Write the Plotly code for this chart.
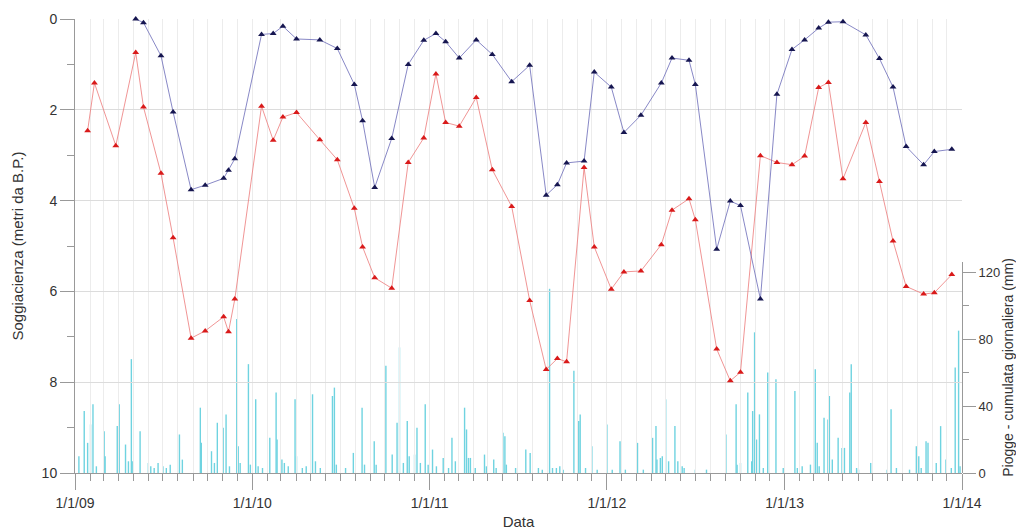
import pandas as pd
import plotly.graph_objects as go

# Groundwater depth (m below ground level) - two piezometers
dates_red = ["2009-01-27", "2009-02-10", "2009-03-26",
             "2009-05-06", "2009-05-22", "2009-06-27", "2009-07-22", "2009-08-28", "2009-09-26",
             "2009-11-03", "2009-11-13", "2009-11-26", "2010-01-20", "2010-02-13", "2010-03-05",
             "2010-04-02", "2010-05-20", "2010-06-25", "2010-07-30", "2010-08-16", "2010-09-10",
             "2010-10-15", "2010-11-18", "2010-12-20", "2011-01-14", "2011-02-03", "2011-03-03",
             "2011-04-07", "2011-05-10", "2011-06-19", "2011-07-26", "2011-08-29", "2011-09-21",
             "2011-10-10", "2011-11-15", "2011-12-06", "2012-01-10", "2012-02-05", "2012-03-11",
             "2012-04-22", "2012-05-14", "2012-06-18", "2012-07-01", "2012-08-14", "2012-09-11",
             "2012-10-02", "2012-11-12", "2012-12-16", "2013-01-16", "2013-02-11", "2013-03-12",
             "2013-04-01", "2013-05-01", "2013-06-17", "2013-07-15", "2013-08-12", "2013-09-08",
             "2013-10-14", "2013-11-05", "2013-12-11"]
red_depth = [2.46, 1.41, 2.79,
             0.74, 1.94, 3.40, 4.82, 7.03, 6.87, 6.56, 6.89, 6.17, 1.92, 2.67, 2.16,
             2.06, 2.66, 3.10, 4.17, 5.02, 5.70, 5.93, 3.16, 2.62, 1.21, 2.28, 2.36,
             1.73, 3.32, 4.13, 6.20, 7.72, 7.48, 7.55, 3.27, 5.02, 5.95, 5.57, 5.55,
             4.97, 4.21, 3.96, 4.42, 7.27, 7.97, 7.78, 3.01, 3.16, 3.21, 3.02, 1.51,
             1.40, 3.52, 2.28, 3.58, 4.89, 5.89, 6.06, 6.03, 5.63]

dates_blue = dates_red[3:]
blue_depth = [0.00, 0.08, 0.81, 2.05, 3.76, 3.66, 3.51, 3.33, 3.08, 0.34, 0.32, 0.16,
              0.44, 0.46, 0.65, 1.44, 2.24, 3.71, 2.63, 1.00, 0.47, 0.32, 0.50, 0.86,
              0.46, 0.78, 1.38, 1.02, 3.88, 3.65, 3.17, 3.13, 1.17, 1.50, 2.50, 2.12,
              1.41, 0.86, 0.91, 1.44, 5.07, 4.01, 4.11, 6.17, 1.66, 0.67, 0.46, 0.20,
              0.07, 0.06, 0.35, 0.87, 1.50, 2.81, 3.21, 2.92, 2.87]

# Daily rainfall (mm): day number counted from 1 Jan 2009, and value
rain_day = [8, 19, 26, 32, 37, 44, 60, 62, 87, 91, 104, 110, 116, 119, 134, 151, 156, 163,
            171, 181, 188, 196, 215, 221, 258, 260, 281, 287, 293, 305, 311, 318, 333, 336,
            340, 357, 361, 372, 377, 386, 401, 414, 416, 426, 431, 439, 453, 456, 468, 476,
            489, 495, 505, 530, 534, 538, 557, 573, 591, 596, 616, 620, 640, 653, 663, 668,
            676, 684, 688, 699, 704, 711, 721, 727, 736, 744, 758, 769, 776, 783, 802, 806,
            810, 814, 824, 843, 847, 862, 867, 881, 885, 888, 907, 928, 937, 954, 962, 977,
            983, 991, 998, 1005, 1027, 1037, 1040, 1051, 1064, 1075, 1095, 1106, 1122, 1133,
            1158, 1170, 1189, 1196, 1198, 1205, 1209, 1216, 1222, 1235, 1241, 1250, 1254,
            1277, 1300, 1340, 1361, 1363, 1370, 1385, 1393, 1395, 1399, 1403, 1409, 1417,
            1426, 1443, 1458, 1482, 1487, 1497, 1514, 1524, 1528, 1532, 1542, 1550, 1553,
            1559, 1571, 1579, 1584, 1595, 1598, 1609, 1613, 1638, 1672, 1680, 1691, 1718,
            1732, 1737, 1742, 1752, 1756, 1773, 1782, 1793, 1804, 1812, 1819, 1822]
rain_mm = [10, 37, 18, 29, 41, 4, 25, 10, 28, 41, 17, 7, 68, 7, 25, 6, 4, 3,
           6, 4, 3, 5, 23, 8, 39, 18, 13, 6, 30, 27, 35, 4, 92, 16,
           6, 65, 5, 44, 4, 3, 21, 48, 20, 8, 6, 4, 44, 10, 3, 4,
           47, 7, 3, 46, 51, 5, 3, 12, 39, 5, 19, 5, 64, 11, 30, 75,
           6, 31, 10, 11, 27, 6, 41, 5, 14, 4, 9, 3, 21, 7, 39, 26,
           9, 9, 3, 11, 4, 8, 3, 24, 22, 5, 3, 14, 12, 3, 2, 110,
           3, 3, 4, 2, 61, 31, 35, 3, 16, 2, 29, 2, 19, 2,
           18, 2, 21, 28, 8, 9, 10, 44, 7, 28, 7, 4, 3,
           2, 2, 23, 41, 5, 6, 48, 7, 37, 84, 20, 35, 3,
           60, 56, 3, 49, 3, 4, 5, 62, 18, 4, 33, 32, 46,
           8, 21, 15, 15, 48, 65, 3, 2, 6, 2, 38, 3, 2,
           16, 10, 3, 19, 18, 6, 28, 8, 3, 63, 85, 4]

year_ticks = ["2009-01-01", "2010-01-01", "2011-01-01", "2012-01-01", "2013-01-01", "2014-01-01"]

rain_dates = pd.Timestamp("2009-01-01") + pd.to_timedelta(rain_day, unit="D")
rx, ry = [], []
for d, v in zip(rain_dates, rain_mm):
    rx += [d, d, None]
    ry += [0, v, None]

FONT = "Liberation Sans, Arial, sans-serif"
fig = go.Figure()
# rain on the lower (right-hand) axis, drawn first
fig.add_trace(go.Scatter(x=rx, y=ry, mode="lines", xaxis="x", yaxis="y",
                         line=dict(color="#6fd3e0", width=1.4), showlegend=False,
                         hoverinfo="skip"))
# groundwater depths on the full-height left axis, drawn on top
fig.add_trace(go.Scatter(x=dates_red, y=red_depth, mode="lines+markers", yaxis="y2",
                         line=dict(color="#ec7a7a", width=0.8), cliponaxis=False,
                         marker=dict(symbol="triangle-up", size=6, color="#d91a1a"),
                         showlegend=False))
fig.add_trace(go.Scatter(x=dates_blue, y=blue_depth, mode="lines+markers", yaxis="y2",
                         line=dict(color="#6a6ab8", width=0.8), cliponaxis=False,
                         marker=dict(symbol="triangle-up", size=6, color="#161650"),
                         showlegend=False))

H_TOP, H_BOT = 19, 58
plot_h = 531 - H_TOP - H_BOT
y_rain_top_px = 262
rain_frac = (531 - H_BOT - y_rain_top_px) / plot_h
rain_max = 126

fig.update_layout(
    width=1016, height=531,
    margin=dict(l=75, r=54, t=H_TOP, b=H_BOT),
    paper_bgcolor="white", plot_bgcolor="rgba(0,0,0,0)",
    font=dict(family=FONT, size=14, color="#333333"),
    xaxis=dict(type="date", range=["2009-01-01", "2014-01-01"],
               tickvals=year_ticks, tickformat="%-m/%-d/%y",
               ticks="outside", ticklen=16, tickcolor="#999999",
               showgrid=True, gridcolor="#ececec", gridwidth=1,
               showline=True, linecolor="#999999", linewidth=1,
               zeroline=False, anchor="y2", automargin=False,
               ticklabelstandoff=1,
               minor=dict(dtick="M1", ticks="outside", ticklen=7, tickcolor="#999999",
                          showgrid=True, gridcolor="#ececec"),
               title=dict(text="Data", standoff=6, font=dict(size=15)),
               tickfont=dict(size=14)),
    yaxis=dict(range=[0, rain_max], domain=[0, rain_frac], anchor="x", side="right",
               dtick=40, ticks="outside", ticklen=13, tickcolor="#999999",
               showgrid=False, showline=True, linecolor="#999999", zeroline=False,
               automargin=False,
               minor=dict(dtick=20, ticks="outside", ticklen=6, tickcolor="#999999"),
               title=dict(text="Piogge - cumulata giornaliera (mm)", standoff=4,
                          font=dict(size=14)),
               tickfont=dict(size=13)),
    yaxis2=dict(range=[10, 0], dtick=2, ticks="outside", ticklen=14, tickcolor="#999999",
                showgrid=True, gridcolor="#dcdcdc", showline=True, linecolor="#999999",
                zeroline=False, domain=[0, 1], anchor="x", side="left", automargin=False,
                minor=dict(dtick=1, ticks="outside", ticklen=7, tickcolor="#999999",
                           showgrid=False),
                title=dict(text="Soggiacienza (metri da B.P.)", standoff=14, font=dict(size=15)),
                tickfont=dict(size=14)),
)

fig.write_html("out.html", config={"displayModeBar": False},
               post_script="document.body.style.margin='0';document.body.style.overflow='hidden';")
